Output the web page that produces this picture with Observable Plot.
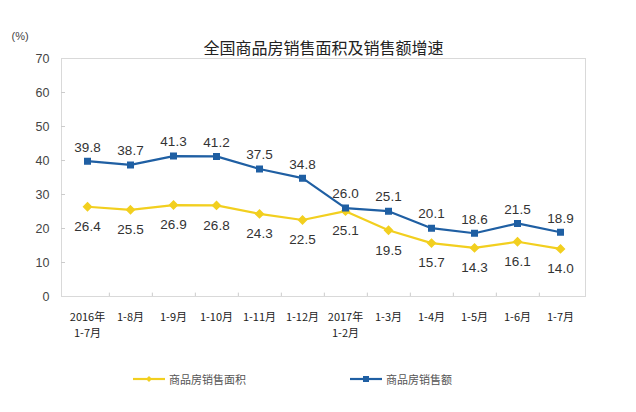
<!DOCTYPE html>
<html><head><meta charset="utf-8">
<script src="https://cdn.jsdelivr.net/npm/d3@7"></script>
<script src="https://cdn.jsdelivr.net/npm/@observablehq/plot@0.6"></script>
<style>
body{margin:0;background:#fff;font-family:"Liberation Sans","Noto Sans CJK SC",sans-serif;}
#wrap{position:relative;width:636px;height:412px;}
#legend{position:absolute;top:370px;left:0;width:636px;font-family:"Noto Sans CJK SC",sans-serif;font-size:11px;color:#555;}
.item{position:absolute;display:flex;align-items:center;}
.item span{margin-left:4px;}
</style></head>
<body><div id="wrap"><div id="chart"></div><div id="legend"></div></div>
<script>
const categories = ["2016年\n1-7月","1-8月","1-9月","1-10月","1-11月","1-12月","2017年\n1-2月","1-3月","1-4月","1-5月","1-6月","1-7月"];
const areaGrowth = [26.4,25.5,26.9,26.8,24.3,22.5,25.1,19.5,15.7,14.3,16.1,14.0];
const salesGrowth = [39.8,38.7,41.3,41.2,37.5,34.8,26.0,25.1,20.1,18.6,21.5,18.9];
const yTicks = [0,10,20,30,40,50,60,70];
const seriesNames = ["商品房销售面积","商品房销售额"];
const colors = ["#F2CF1F","#1F5FA3"];

const area = categories.map((c,i)=>({cat:c, v:areaGrowth[i]}));
const sales = categories.map((c,i)=>({cat:c, v:salesGrowth[i]}));

const W = 636, H = 350;
const mL = 61, mR = 51, mT = 58, mB = H-296;
const step = (W-mL-mR)/categories.length;

const chart = Plot.plot({
  width: W, height: H,
  marginLeft: mL, marginRight: mR, marginTop: mT, marginBottom: mB,
  style:{fontFamily:'"Liberation Sans","Noto Sans CJK SC",sans-serif', background:"#fff"},
  x:{type:"point", domain:categories, padding:0.5, label:null},
  y:{domain:[0,70], ticks:yTicks, label:null},
  marks:[
    Plot.frame({stroke:"#d9d9d9"}),
    Plot.axisY({ticks:yTicks, tickSize:0, tickPadding:12, fontSize:12.5, fill:"#444", label:null}),
    Plot.axisY({ticks:yTicks.slice(1,-1), tickSize:4, dx:4, stroke:"#ccc", tickFormat:()=>"", label:null}),
    Plot.axisX({tickSize:0, tickPadding:14, fontSize:11, fill:"#222", fontFamily:'"Noto Sans CJK SC",sans-serif', lineHeight:1.4, label:null}),
    Plot.ruleX(categories.slice(0,-1), {x:d=>d, dx:step/2, y1:0, y2:1, stroke:"#ccc"}),
    Plot.line(area, {x:"cat", y:"v", stroke:colors[0], strokeWidth:2.2}),
    Plot.dot(area, {x:"cat", y:"v", symbol:"diamond2", r:3.5, fill:colors[0], stroke:colors[0]}),
    Plot.line(sales, {x:"cat", y:"v", stroke:colors[1], strokeWidth:2.2}),
    Plot.dot(sales, {x:"cat", y:"v", symbol:"square2", r:3.5, fill:colors[1], stroke:colors[1]}),
    Plot.text(area, {x:"cat", y:"v", text:d=>d.v.toFixed(1), dy:20, fontSize:13.5, fill:"#333"}),
    Plot.text(sales, {x:"cat", y:"v", text:d=>d.v.toFixed(1), dy:-14, fontSize:13.5, fill:"#333"}),
    Plot.text(["全国商品房销售面积及销售额增速"], {frameAnchor:"top", dy:-16, fontSize:16, fill:"#222", fontFamily:'"Noto Sans CJK SC",sans-serif'}),
    Plot.text(["(%)"], {frameAnchor:"top-left", dx:-50, dy:-26, fontSize:11, fill:"#444", textAnchor:"start"})
  ]
});
document.getElementById("chart").appendChild(chart);

const legend = document.getElementById("legend");
const pos = [133, 350];
const syms = ["diamond","square"];
seriesNames.forEach((n,i)=>{
  const d = document.createElement("div");
  d.className="item"; d.style.left=pos[i]+"px";
  const sym = syms[i]==="diamond"
    ? `<path d="M16,6 L19,9 L16,12 L13,9Z" fill="${colors[i]}"/>`
    : `<rect x="13" y="6" width="6" height="6" fill="${colors[i]}"/>`;
  d.innerHTML = `<svg width="32" height="18"><line x1="0" y1="9" x2="32" y2="9" stroke="${colors[i]}" stroke-width="2.2"/>${sym}</svg><span>${n}</span>`;
  legend.appendChild(d);
});
</script></body></html>
